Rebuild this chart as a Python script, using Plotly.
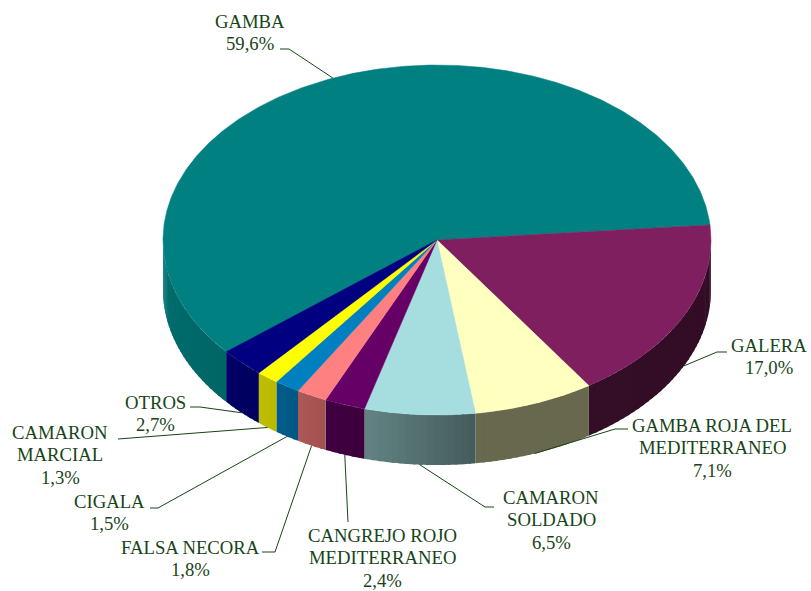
import numpy as np
import plotly.graph_objects as go

# ---------------- data ----------------
categories = ["GAMBA", "GALERA", "GAMBA ROJA DEL MEDITERRANEO", "CAMARON SOLDADO",
              "CANGREJO ROJO MEDITERRANEO", "FALSA NECORA", "CIGALA",
              "CAMARON MARCIAL", "OTROS"]
values = [59.6, 17.0, 7.1, 6.5, 2.4, 1.8, 1.5, 1.3, 2.7]
label_lines = [["GAMBA"], ["GALERA"], ["GAMBA ROJA DEL", "MEDITERRANEO"],
               ["CAMARON", "SOLDADO"], ["CANGREJO ROJO", "MEDITERRANEO"],
               ["FALSA NECORA"], ["CIGALA"], ["CAMARON", "MARCIAL"], ["OTROS"]]

# ---------------- style / layout ----------------
top_colors = ["#008080", "#7F1F5F", "#FFFFC0", "#A6DEDF", "#660066",
              "#FF8080", "#0080C0", "#FFFF00", "#000080"]
TEXT_COLOR = "#174417"
FONT = "Liberation Serif"
FONT_SIZE = 18.7
LINE_GAP = 22.5

CX, CY, RX, RY, DEPTH = 437.0, 240.0, 274.0, 175.0, 50.0
START_ANGLE = 219.7  # degrees, slices run clockwise

label_cx = [250, 769, 712, 551, 382, 190, 109, 60, 155]
label_y0 = [21, 345, 425, 497, 535, 547, 501, 432, 402]
leader_elbow = [(289, 49), (717, 352), (615, 429), (485, 507), (348, 522),
                (275, 552), (158, 508), (118, 439), (200, 407)]
leader_end = [(280, 49), (727, 352), (628, 429), (494, 507), (348, 522),
              (262, 552), (150, 508), (118, 439), (190, 407)]


def pt(theta_deg, dy=0.0):
    t = np.radians(theta_deg)
    return CX + RX * np.cos(t), CY - RY * np.sin(t) + dy


def shade(hex_color, f):
    h = hex_color.lstrip("#")
    r, g, b = (int(h[i:i + 2], 16) for i in (0, 2, 4))
    return "rgb(%d,%d,%d)" % (round(r * f), round(g * f), round(b * f))


def light(theta):
    t = theta % 360
    return float(np.interp(t, [180, 220, 235, 245, 255, 278, 360],
                           [0.87, 0.79, 0.72, 0.64, 0.59, 0.41, 0.40]))


total = sum(values)
bounds = [START_ANGLE]
for v in values:
    bounds.append(bounds[-1] - v / total * 360.0)

fig = go.Figure()

# side (outer wall) strips, visible front half only
for i, v in enumerate(values):
    a_hi, a_lo = bounds[i], bounds[i + 1]
    for f_lo, f_hi in [(-180.0, 0.0), (180.0, 360.0)]:
        lo, hi = max(a_lo, f_lo), min(a_hi, f_hi)
        if hi - lo <= 1e-6:
            continue
        n = max(1, int(np.ceil((hi - lo) / 1.5)))
        edges = np.linspace(lo, hi, n + 1)
        for k in range(n):
            e0 = edges[k]
            e1 = min(hi, edges[k + 1] + 0.6) if k < n - 1 else edges[k + 1]
            th = np.linspace(e0, e1, 5)
            xs_t, ys_t = pt(th)
            xs_b, ys_b = pt(th[::-1], DEPTH)
            col = shade(top_colors[i], light((edges[k] + edges[k + 1]) / 2))
            fig.add_trace(go.Scatter(
                x=np.concatenate([xs_t, xs_b, xs_t[:1]]),
                y=np.concatenate([ys_t, ys_b, ys_t[:1]]),
                mode="none", fill="toself", fillcolor=col,
                hoverinfo="skip", showlegend=False))

# top faces
for i, v in enumerate(values):
    th = np.linspace(bounds[i], bounds[i + 1], max(4, int(abs(bounds[i] - bounds[i + 1]) * 2)))
    xs, ys = pt(th)
    fig.add_trace(go.Scatter(
        x=np.concatenate([[CX], xs, [CX]]),
        y=np.concatenate([[CY], ys, [CY]]),
        mode="lines", fill="toself", fillcolor=top_colors[i],
        line=dict(color=top_colors[i], width=0.5),
        hoverinfo="skip", showlegend=False, name=categories[i]))

# leader lines (anchored at each slice's mid angle)
for i, v in enumerate(values):
    mid = (bounds[i] + bounds[i + 1]) / 2
    dy = DEPTH if np.sin(np.radians(mid)) < 0 else 0.0
    ax, ay = pt(mid, dy)
    ex, ey = leader_elbow[i]
    tx, ty = leader_end[i]
    fig.add_trace(go.Scatter(
        x=[float(ax), ex, tx], y=[float(ay), ey, ty], mode="lines",
        line=dict(color=TEXT_COLOR, width=1), hoverinfo="skip", showlegend=False))

# labels
annotations = []
for i, v in enumerate(values):
    lines = label_lines[i] + [("%.1f" % v).replace(".", ",") + "%"]
    for j, txt in enumerate(lines):
        annotations.append(dict(
            x=label_cx[i], y=label_y0[i] + j * LINE_GAP, xref="x", yref="y",
            text=txt, showarrow=False, xanchor="center", yanchor="middle",
            font=dict(family=FONT, size=FONT_SIZE, color=TEXT_COLOR)))

fig.update_layout(
    width=811, height=591,
    margin=dict(l=0, r=0, t=0, b=0),
    paper_bgcolor="white", plot_bgcolor="white",
    xaxis=dict(range=[0, 811], visible=False, fixedrange=True),
    yaxis=dict(range=[591, 0], visible=False, fixedrange=True),
    annotations=annotations,
    showlegend=False,
)

fig.write_html("out.html", config={"displayModeBar": False},
               post_script="document.body.style.margin='0px';"
                           "document.body.style.overflow='hidden';")
